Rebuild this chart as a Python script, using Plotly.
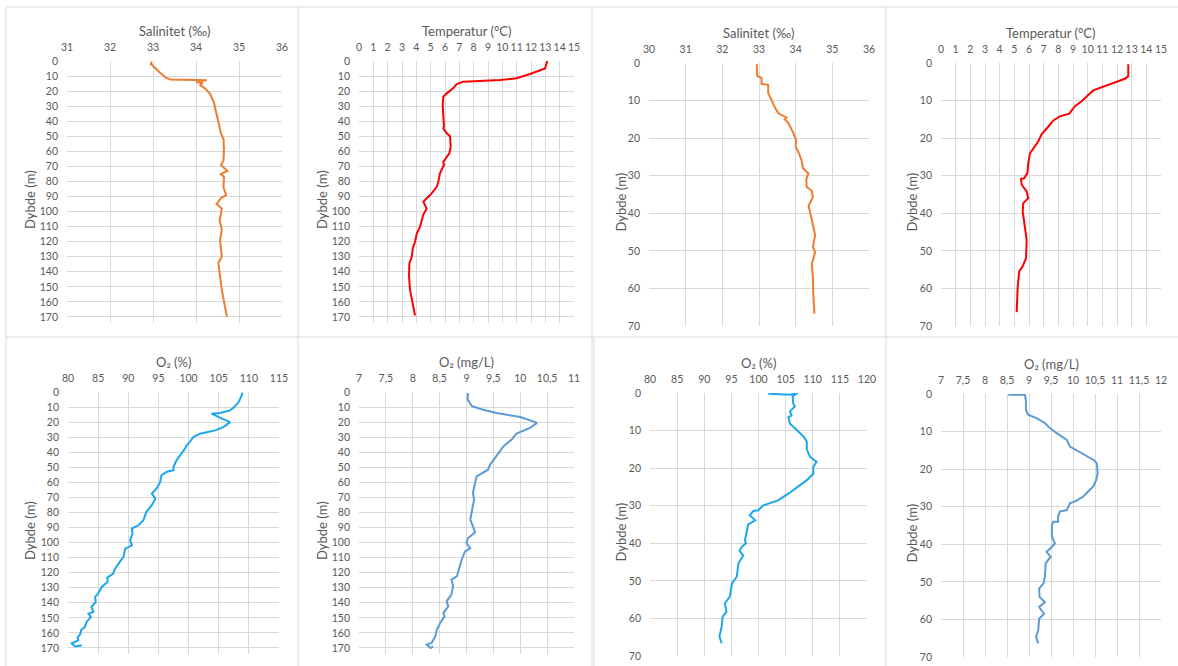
import plotly.graph_objects as go

# ---------------- data ----------------
# Station 1 (0-170 m)
sal1_depth = [0.4, 2, 6, 8, 11, 12.3, 12.8, 14, 14.6, 16, 18, 22, 28, 37, 48, 52, 59, 66, 69, 73, 75, 77, 84, 89, 91, 95, 98, 106, 112, 119, 130, 134, 143, 152, 161, 170]
sal1_val = [32.97, 32.95, 33.1, 33.17, 33.3, 33.4, 34.25, 34.0, 34.15, 34.1, 34.2, 34.33, 34.42, 34.5, 34.58, 34.64, 34.65, 34.64, 34.58, 34.73, 34.58, 34.65, 34.64, 34.7, 34.58, 34.48, 34.6, 34.55, 34.6, 34.56, 34.6, 34.52, 34.56, 34.6, 34.66, 34.72]

temp1_depth = [0, 4.9, 8.6, 11.5, 12.6, 13.3, 13.7, 15.3, 18, 21.5, 23.7, 30, 39, 43.6, 44.7, 48, 50, 57, 61.3, 67, 69, 72, 74.6, 80, 83.5, 87.9, 91, 93.5, 95.7, 98, 102, 110, 114.6, 120, 124.6, 130, 134.6, 143, 152, 158.7, 169]
temp1_val = [13.14, 12.98, 11.93, 11.0, 9.84, 8.21, 7.28, 6.82, 6.58, 6.12, 5.88, 5.84, 5.88, 5.93, 5.88, 6.12, 6.35, 6.4, 6.3, 5.88, 5.93, 5.77, 5.65, 5.54, 5.42, 5.07, 4.72, 4.49, 4.6, 4.72, 4.49, 4.26, 4.03, 3.91, 3.75, 3.68, 3.51, 3.49, 3.56, 3.68, 3.91]

o2pct1_depth = [0.5, 4.4, 6, 9.5, 12.2, 14, 14.4, 17, 20, 23.3, 25.5, 27.7, 29.9, 33.2, 35.4, 37.6, 42, 45.4, 49.8, 52, 53, 55.3, 59.7, 64, 67.5, 70.8, 75.2, 79.6, 85.2, 88.5, 90.7, 94, 98.5, 101.8, 104, 109.5, 112.8, 117.3, 120.6, 123.3, 126, 129.5, 133.9, 136, 139.4, 142.7, 146, 147.2, 149.4, 152.7, 156, 158, 161, 163, 165, 166.9, 169, 168.2]
o2pct1_val = [108.97, 108.6, 108.4, 107.7, 106.9, 105.2, 103.8, 105.2, 106.9, 105.75, 104.4, 101.9, 100.8, 100.2, 99.7, 99.4, 98.6, 98.0, 97.5, 97.5, 96.4, 95.5, 95.3, 94.7, 93.9, 94.5, 93.9, 93.0, 92.5, 91.7, 90.6, 90.7, 90.3, 90.6, 89.5, 89.2, 88.6, 87.8, 87.5, 86.5, 86.6, 85.6, 85.0, 84.5, 84.6, 83.9, 84.2, 83.4, 83.8, 83.1, 82.8, 82.2, 82.0, 81.6, 81.7, 80.6, 81.2, 82.3]

o2mg1_depth = [0.7, 5, 9.4, 11.8, 14, 16.6, 19.5, 20.5, 23.9, 27.6, 31.6, 36, 39.4, 44.9, 48.2, 51.6, 53.8, 56, 60.4, 67, 71.5, 78.2, 84.8, 89.3, 93.2, 97, 100.3, 103.7, 106, 111.4, 118, 122.5, 124.7, 129, 134.6, 139, 142.4, 146.8, 149, 153.4, 157.8, 162.3, 166.7, 167.8, 170, 168.9]
o2mg1_val = [9.03, 9.02, 9.1, 9.31, 9.56, 10.0, 10.24, 10.31, 10.18, 9.93, 9.84, 9.69, 9.62, 9.5, 9.44, 9.4, 9.28, 9.19, 9.16, 9.12, 9.14, 9.1, 9.07, 9.12, 9.16, 9.03, 9.0, 9.07, 8.97, 8.91, 8.85, 8.82, 8.72, 8.75, 8.72, 8.63, 8.66, 8.57, 8.59, 8.51, 8.45, 8.42, 8.35, 8.26, 8.33, 8.38]

# Station 2 (0-70 m)
sal2_depth = [0.3, 3.4, 4, 5.6, 5.8, 8, 9.8, 12, 13.4, 14.5, 15, 16, 18.7, 20.5, 22.3, 23.6, 25.8, 28, 29.4, 31, 33, 34, 35.7, 38, 40, 43.6, 45.8, 49, 50.4, 53.5, 57, 61.3, 66.7]
sal2_val = [32.94, 32.95, 33.07, 33.07, 33.25, 33.25, 33.34, 33.44, 33.53, 33.75, 33.7, 33.8, 33.94, 34.01, 34.0, 34.07, 34.16, 34.2, 34.35, 34.29, 34.3, 34.44, 34.47, 34.35, 34.4, 34.47, 34.53, 34.47, 34.53, 34.44, 34.47, 34.48, 34.51]

temp2_depth = [0.3, 3.5, 4.2, 5.3, 6.4, 7.3, 8.9, 10.2, 11.5, 13, 13.5, 14.2, 15.3, 16.9, 19, 20.9, 22.2, 24, 26.6, 29.3, 30.7, 30.9, 32.4, 34.2, 36, 37.3, 39.5, 43.5, 47, 51.9, 54.1, 55.4, 59.4, 66.3]
temp2_val = [12.77, 12.77, 12.54, 11.75, 11.07, 10.38, 9.93, 9.59, 9.13, 8.84, 8.75, 8.11, 7.66, 7.32, 6.86, 6.63, 6.41, 6.07, 5.95, 5.89, 5.66, 5.45, 5.5, 5.84, 5.95, 5.61, 5.57, 5.73, 5.84, 5.8, 5.57, 5.34, 5.23, 5.16]

o2pct2_depth = [0.2, 0.3, 0.45, 0, 0.9, 2.8, 3.6, 4.9, 6, 6.4, 8.2, 9.8, 11.6, 12.9, 15, 17, 18.3, 19.7, 21.5, 23.2, 25, 26.8, 28.6, 29.9, 31.2, 31.4, 32.6, 33.9, 35, 39.2, 39.9, 41, 42, 43.2, 45.4, 48.9, 50.7, 54.2, 56, 58.2, 59.5, 62.2, 64.8, 66.6]
o2pct2_val = [101.8, 104.3, 105.8, 107.2, 106.3, 106.4, 106.7, 105.8, 106.1, 105.5, 105.8, 107.0, 108.3, 108.9, 108.9, 109.5, 110.7, 110.1, 110.1, 108.9, 107.3, 105.5, 103.6, 100.9, 99.96, 99.05, 98.4, 99.4, 98.1, 97.5, 97.7, 96.9, 96.5, 97.2, 96.3, 96.0, 95.1, 94.7, 93.8, 94.1, 93.4, 93.2, 92.8, 93.2]

o2mg2_depth = [0.2, 0.2, 2, 4.2, 5.5, 6.4, 7.7, 9.1, 10.4, 12.2, 14, 15, 16.6, 17.5, 18.4, 21.1, 22.8, 24.6, 25.9, 27.3, 28.4, 29.1, 30.9, 31.3, 32.7, 34, 34, 34.9, 38, 39.8, 41.1, 42, 43.3, 45.1, 48.7, 50.4, 51.8, 54, 55.4, 56.7, 58.5, 59.8, 62.9, 64.6, 66.4]
o2mg2_val = [8.53, 8.91, 8.93, 8.93, 8.98, 9.17, 9.36, 9.48, 9.63, 9.86, 9.93, 10.08, 10.31, 10.46, 10.54, 10.56, 10.53, 10.46, 10.35, 10.23, 10.08, 9.93, 9.86, 9.7, 9.66, 9.66, 9.55, 9.52, 9.52, 9.59, 9.48, 9.4, 9.49, 9.38, 9.36, 9.33, 9.23, 9.24, 9.36, 9.23, 9.34, 9.23, 9.21, 9.16, 9.21]

# tick labels
sal1_ticks = [31, 32, 33, 34, 35, 36]
sal2_ticks = [30, 31, 32, 33, 34, 35, 36]
temp_ticks = list(range(0, 16))
o2pct1_ticks = [80, 85, 90, 95, 100, 105, 110, 115]
o2pct2_ticks = [80, 85, 90, 95, 100, 105, 110, 115, 120]
o2mg1_ticks = [7, 7.5, 8, 8.5, 9, 9.5, 10, 10.5, 11]
o2mg2_ticks = [7, 7.5, 8, 8.5, 9, 9.5, 10, 10.5, 11, 11.5, 12]
depth1_ticks = list(range(0, 171, 10))
depth2_ticks = list(range(0, 71, 10))
y_title = "Dybde (m)"

W, H = 1178, 666
ORANGE = "#ED7D31"
RED = "#FF0000"
CYAN = "#1CA7EC"
BLUE = "#5B9BD5"
GRID = "#D9D9D9"
TXT = "#595959"
FONT = "Lato, Open Sans, sans-serif"

panels = [
    # x, y, color, title, xticks, x px (l, r), y px (top, bottom), depth range max, depth ticks, ytitle x
    (sal1_val, sal1_depth, ORANGE, "Salinitet (‰)", sal1_ticks, (67, 282), (61, 323), 174, depth1_ticks, 30),
    (temp1_val, temp1_depth, RED, "Temperatur (°C)", temp_ticks, (359, 574), (61, 323), 174, depth1_ticks, 322),
    (sal2_val, sal2_depth, ORANGE, "Salinitet (‰)", sal2_ticks, (649, 869), (63, 326), 70, depth2_ticks, 620),
    (temp2_val, temp2_depth, RED, "Temperatur (°C)", temp_ticks, (941, 1161), (63, 326), 70, depth2_ticks, 911),
    (o2pct1_val, o2pct1_depth, CYAN, "O₂ (%)", o2pct1_ticks, (68, 279), (392, 654), 174, depth1_ticks, 30),
    (o2mg1_val, o2mg1_depth, BLUE, "O₂ (mg/L)", o2mg1_ticks, (359, 574), (392, 654), 174, depth1_ticks, 322),
    (o2pct2_val, o2pct2_depth, CYAN, "O₂ (%)", o2pct2_ticks, (650, 867), (393, 656), 70, depth2_ticks, 620),
    (o2mg2_val, o2mg2_depth, BLUE, "O₂ (mg/L)", o2mg2_ticks, (941, 1161), (394, 657), 70, depth2_ticks, 911),
]

def fmt(v):
    return ("%g" % v).replace(".", ",")

fig = go.Figure()
layout = dict(
    width=W, height=H,
    margin=dict(l=0, r=0, t=0, b=0, autoexpand=False),
    paper_bgcolor="white", plot_bgcolor="white",
    showlegend=False,
    font=dict(family=FONT, color=TXT, size=10),
)
annotations = []

for i, (xv, yv, col, title, xt, (xl, xr), (yt, yb), dmax, dt, ytx) in enumerate(panels):
    n = i + 1
    xa = "x" if n == 1 else f"x{n}"
    ya = "y" if n == 1 else f"y{n}"
    fig.add_trace(go.Scatter(x=xv, y=yv, mode="lines", line=dict(color=col, width=2),
                             xaxis=xa, yaxis=ya, hoverinfo="skip"))
    layout["xaxis" if n == 1 else f"xaxis{n}"] = dict(
        domain=[xl / W, xr / W], anchor=ya, side="top", automargin=False,
        range=[xt[0], xt[-1]], tickvals=xt, ticktext=[fmt(v) for v in xt],
        showgrid=True, gridcolor=GRID, gridwidth=1, zeroline=False, showline=False,
        ticks="", ticklabelstandoff=7, tickfont=dict(size=10.5, color=TXT, family=FONT),
        fixedrange=True,
    )
    layout["yaxis" if n == 1 else f"yaxis{n}"] = dict(
        domain=[1 - yb / H, 1 - yt / H], anchor=xa, automargin=False,
        range=[dmax, 0], tickvals=dt, ticktext=[str(v) for v in dt],
        showgrid=True, gridcolor=GRID, gridwidth=1, zeroline=False, showline=False,
        ticks="", ticklabelstandoff=8, tickfont=dict(size=10.5, color=TXT, family=FONT),
        fixedrange=True,
    )
    # axis titles
    annotations.append(dict(text=title, xref="paper", yref="paper",
                            x=(xl + xr) / 2 / W, y=1 - (yt - 30) / H,
                            xanchor="center", yanchor="middle", showarrow=False,
                            font=dict(size=13, color=TXT, family=FONT)))
    annotations.append(dict(text=y_title, xref="paper", yref="paper",
                            x=ytx / W, y=1 - ((yt + yb) / 2 + 8) / H, textangle=-90,
                            xanchor="center", yanchor="middle", showarrow=False,
                            font=dict(size=13, color=TXT, family=FONT)))

# chart frames (Excel chart borders)
frame = "#D9D9D9"
shapes = []
def vline(x, y0, y1):
    shapes.append(dict(type="line", xref="paper", yref="paper", x0=x / W, x1=x / W,
                       y0=1 - y0 / H, y1=1 - y1 / H, line=dict(color=frame, width=1)))
def hline(y, x0, x1):
    shapes.append(dict(type="line", xref="paper", yref="paper", x0=x0 / W, x1=x1 / W,
                       y0=1 - y / H, y1=1 - y / H, line=dict(color=frame, width=1)))
vline(6, 7, 666)
vline(298, 7, 666)
vline(592, 7, 666)
vline(594, 337, 666)
vline(886, 7, 666)
hline(7, 6, 1178)
hline(337, 6, 1178)
layout["shapes"] = shapes
layout["annotations"] = annotations

fig.update_layout(**layout)
fig.write_html("out.html", config={"displayModeBar": False},
               post_script="document.body.style.margin='0';document.body.style.padding='0';")
